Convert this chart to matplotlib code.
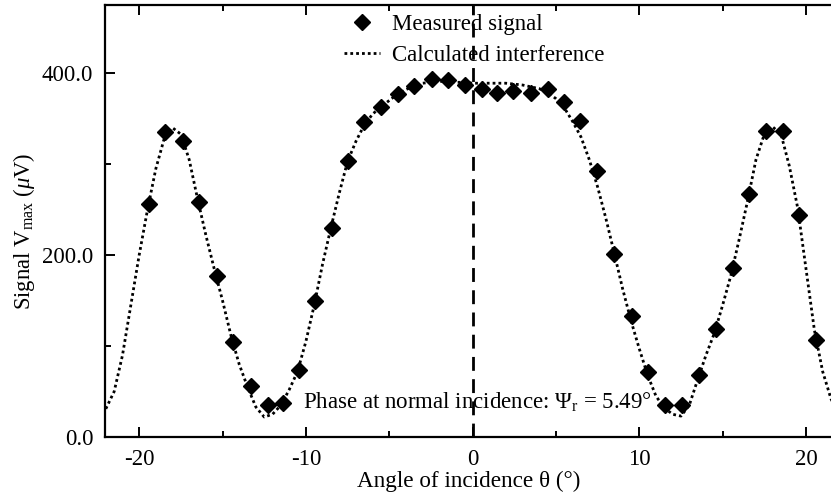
import matplotlib
matplotlib.use("Agg")
import matplotlib.pyplot as plt
from matplotlib.ticker import MultipleLocator, FormatStrFormatter

plt.rcParams['font.family'] = ['Liberation Serif', 'DejaVu Serif']
plt.rcParams['mathtext.fontset'] = 'custom'
plt.rcParams['mathtext.rm'] = 'Liberation Serif'
plt.rcParams['mathtext.it'] = 'Liberation Serif:italic'
plt.rcParams['axes.unicode_minus'] = False

# Measured signal (angle in degrees, signal in microvolts)
meas_angle = [-19.4, -18.45, -17.4, -16.4, -15.35, -14.35, -13.3, -12.3, -11.35, -10.4,
              -9.45, -8.45, -7.45, -6.5, -5.5, -4.5, -3.5, -2.45, -1.5, -0.45,
              0.55, 1.45, 2.45, 3.5, 4.5, 5.5, 6.45, 7.45, 8.5, 9.55,
              10.55, 11.55, 12.55, 13.6, 14.6, 15.6, 16.6, 17.6, 18.6, 19.6, 20.6]
meas_signal = [256, 335, 325, 258, 177, 105, 56, 35, 37, 74,
               149, 230, 304, 346, 363, 377, 386, 394, 393, 387,
               383, 378, 380, 378, 383, 368, 347, 293, 201, 133,
               72, 35, 35, 68, 119, 186, 267, 337, 337, 244, 107]

# Calculated interference curve
calc_angle = [-22.0, -21.5, -21.0, -20.5, -20.0, -19.5, -19.0, -18.5, -18.0, -17.5,
              -17.0, -16.5, -16.0, -15.5, -15.0, -14.5, -14.0, -13.5, -13.0, -12.5,
              -12.0, -11.5, -11.0, -10.5, -10.0, -9.5, -9.0, -8.5, -8.0, -7.5,
              -7.0, -6.5, -6.0, -5.5, -5.0, -4.5, -4.0, -3.5, -3.0, -2.5,
              -2.0, -1.5, -1.0, -0.5, 0.0, 0.5, 1.0, 1.5, 2.0, 2.5,
              3.0, 3.5, 4.0, 4.5, 5.0, 5.5, 6.0, 6.5, 7.0, 7.5,
              8.0, 8.5, 9.0, 9.5, 10.0, 10.5, 11.0, 11.5, 12.0, 12.5,
              13.0, 13.5, 14.0, 14.5, 15.0, 15.5, 16.0, 16.5, 17.0, 17.5,
              18.0, 18.5, 19.0, 19.5, 20.0, 20.5, 21.0, 21.5, 21.7]
calc_signal = [31, 50, 90, 145, 200, 250, 295, 328, 340, 333,
               305, 262, 222, 185, 150, 112, 80, 55, 33, 22,
               25, 35, 52, 72, 105, 145, 190, 230, 268, 303,
               325, 343, 355, 363, 370, 377, 382, 386, 389, 390,
               391, 391, 390, 390, 389, 389, 389, 389, 389, 388,
               387, 385, 383, 379, 372, 362, 347, 330, 305, 275,
               240, 202, 163, 128, 97, 68, 45, 32, 25, 23,
               35, 63, 90, 114, 145, 178, 218, 260, 305, 333,
               341, 333, 298, 252, 185, 118, 72, 42, 34]

x_ticks = [-20, -10, 0, 10, 20]
y_ticks = [0, 200, 400]
x_limits = (-22.05, 21.62)
y_limits = (0, 475)

W, H = 831, 496
fig = plt.figure(figsize=(W / 100, H / 100), dpi=100)
ax = fig.add_axes([105 / W, (H - 437) / H, (833 - 105) / W, (437 - 5) / H])

ax.plot(calc_angle, calc_signal, color='black', lw=2.0, linestyle=(0, (1, 1.1)),
        label='Calculated interference', zorder=2)
ax.plot(meas_angle, meas_signal, linestyle='none', marker='D', ms=8.5,
        color='black', label='Measured signal', zorder=3)
ax.axvline(0, color='black', lw=2.0, linestyle=(0, (5, 3)), zorder=1)

ax.set_xlim(*x_limits)
ax.set_ylim(*y_limits)
ax.set_xticks(x_ticks)
ax.set_yticks(y_ticks)
ax.xaxis.set_minor_locator(MultipleLocator(5))
ax.yaxis.set_minor_locator(MultipleLocator(100))
ax.yaxis.set_major_formatter(FormatStrFormatter('%.1f'))
ax.tick_params(which='both', direction='in', top=True, right=False, labelsize=16.5,
               width=1.4, colors='black')
ax.tick_params(which='major', length=7)
ax.tick_params(which='minor', length=4)
ax.tick_params(axis='x', which='both', pad=8.5)
ax.tick_params(axis='y', which='both', pad=8.5)
for s in ax.spines.values():
    s.set_linewidth(1.6)

ax.set_xlabel('Angle of incidence θ (°)', fontsize=16.7, labelpad=1)
ax.set_ylabel(r'Signal V$_{\rm max}$ ($\mu$V)', fontsize=16.3)
ax.yaxis.set_label_coords(-0.094, 0.475)

ax.text(-10.15, 38, r'Phase at normal incidence: $\Psi_{\rm r}$ = 5.49°', fontsize=16.5,
        va='center', ha='left')

handles, labels = ax.get_legend_handles_labels()
leg = ax.legend(handles[::-1], labels[::-1], loc='upper left', bbox_to_anchor=(0.309, 1.012),
                frameon=False, fontsize=16.5, handlelength=1.6, handletextpad=0.5,
                labelspacing=0.45, borderaxespad=0.2)

fig.savefig('out.png', dpi=100)
